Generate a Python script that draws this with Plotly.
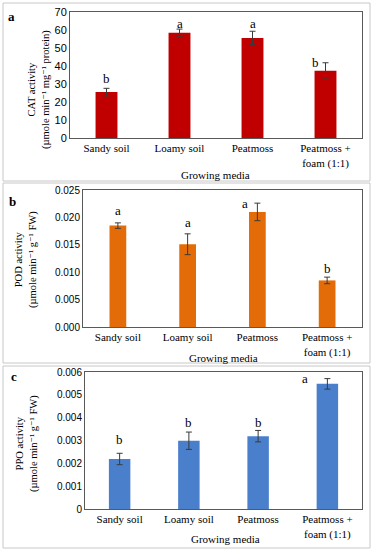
import plotly.graph_objects as go

categories = ["Sandy soil", "Loamy soil", "Peatmoss", "Peatmoss +<br>foam (1:1)"]

cat_values = [25.5, 58.5, 55.6, 37.3]
cat_errors = [2.1, 2.0, 3.7, 4.5]
cat_letters = ["b", "a", "a", "b"]

pod_values = [0.0185, 0.0151, 0.0210, 0.0085]
pod_errors = [0.0005, 0.0019, 0.0016, 0.0006]
pod_letters = ["a", "a", "a", "b"]

ppo_values = [0.00219, 0.00299, 0.00319, 0.00548]
ppo_errors = [0.00025, 0.00038, 0.00025, 0.00023]
ppo_letters = ["b", "b", "b", "a"]

cat_ticks = [0, 10, 20, 30, 40, 50, 60, 70]
pod_ticks = [0.0, 0.005, 0.010, 0.015, 0.020, 0.025]
pod_ticktext = ["0.000", "0.005", "0.010", "0.015", "0.020", "0.025"]
ppo_ticks = [0, 0.001, 0.002, 0.003, 0.004, 0.005, 0.006]
ppo_ticktext = ["0", "0.001", "0.002", "0.003", "0.004", "0.005", "0.006"]

W, H = 375, 550
SERIF = "Liberation Serif, DejaVu Serif, serif"
SANS = "Liberation Sans, Arial, sans-serif"

def px_x(p):
    return p / W

def px_y(p):
    return 1 - p / H

panels = [
    dict(vals=cat_values, errs=cat_errors, letters=cat_letters, color="#C00000",
         width=0.30, xdom=[70, 362], ydom=[138, 12], rng=[0, 70],
         tickvals=cat_ticks, ticktext=[str(t) for t in cat_ticks],
         title1="CAT activity", title2="(µmole min⁻¹ mg⁻¹ protein)", tx=39, ty=90,
         label="a", lx=11, ly=17, box=[3, 3, 370, 181], glabel=(215, 175), tickfont=11,
         lshift=[(0, 10), (0, 6), (0, 8), (-10, 0)]),
    dict(vals=pod_values, errs=pod_errors, letters=pod_letters, color="#E36C09",
         width=0.24, xdom=[83, 362], ydom=[327, 190], rng=[0, 0.025],
         tickvals=pod_ticks, ticktext=pod_ticktext,
         title1="POD activity", title2="(µmole min⁻¹ g⁻¹ FW)", tx=26, ty=260,
         label="b", lx=12, ly=201, box=[3, 183, 370, 363], glabel=(223, 358), tickfont=10,
         lshift=[(0, 12), (0, 11), (-12, 0), (0, 9)]),
    dict(vals=ppo_values, errs=ppo_errors, letters=ppo_letters, color="#4A7FCC",
         width=0.31, xdom=[85, 362], ydom=[509, 372], rng=[0, 0.006],
         tickvals=ppo_ticks, ticktext=ppo_ticktext,
         title1="PPO activity", title2="(µmole min⁻¹ g⁻¹ FW)", tx=27, ty=443,
         label="c", lx=14, ly=376, box=[3, 366, 370, 548], glabel=(225, 539), tickfont=10,
         lshift=[(0, 14), (0, 10), (0, 8), (-22, 0)]),
]

fig = go.Figure()
annotations = []
shapes = []

for i, p in enumerate(panels, start=1):
    xa = "x" if i == 1 else f"x{i}"
    ya = "y" if i == 1 else f"y{i}"
    fig.add_trace(go.Bar(
        x=categories, y=p["vals"], xaxis=xa, yaxis=ya,
        marker=dict(color=p["color"], line=dict(width=0)),
        width=p["width"],
        error_y=dict(type="data", array=p["errs"], visible=True,
                     color="#3a3a3a", thickness=1, width=3),
        showlegend=False,
    ))
    key = "" if i == 1 else str(i)
    fig.layout["xaxis" + key] = dict(
        domain=[px_x(p["xdom"][0]), px_x(p["xdom"][1])],
        anchor=ya, showline=True, mirror=True, linecolor="#595959", linewidth=1,
        ticks="", showgrid=False, tickfont=dict(family=SERIF, size=11, color="black"),
        fixedrange=True, automargin=False,
    )
    fig.layout["yaxis" + key] = dict(
        domain=[px_y(p["ydom"][0]), px_y(p["ydom"][1])],
        anchor=xa, range=p["rng"], showline=True, mirror=True, linecolor="#595959",
        linewidth=1, ticks="", showgrid=False, zeroline=False,
        tickvals=p["tickvals"], ticktext=p["ticktext"],
        tickfont=dict(family=SANS, size=p["tickfont"], color="black"),
        fixedrange=True, automargin=False,
    )
    # letters
    for j, (c, v, e, L) in enumerate(zip(categories, p["vals"], p["errs"], p["letters"])):
        xs, ys = p["lshift"][j]
        annotations.append(dict(
            x=c, y=v + e, xref=xa, yref=ya, text=L, showarrow=False,
            xshift=xs, yshift=ys, xanchor="center", yanchor="middle",
            font=dict(family=SERIF, size=13, color="black"),
        ))
    # y title
    annotations.append(dict(
        x=px_x(p["tx"]), y=px_y(p["ty"]), xref="paper", yref="paper",
        xanchor="center", yanchor="middle",
        text=p["title1"] + "<br>" + p["title2"], showarrow=False, textangle=-90,
        font=dict(family=SERIF, size=10.5, color="black"), align="center",
    ))
    # panel label
    annotations.append(dict(
        x=px_x(p["lx"]), y=px_y(p["ly"]), xref="paper", yref="paper",
        xanchor="center", yanchor="middle",
        text="<b>" + p["label"] + "</b>", showarrow=False,
        font=dict(family=SERIF, size=13, color="black"),
    ))
    # x title
    annotations.append(dict(
        x=px_x(p["glabel"][0]), y=px_y(p["glabel"][1]),
        xref="paper", yref="paper", xanchor="center", yanchor="middle",
        text="Growing media", showarrow=False,
        font=dict(family=SERIF, size=11, color="black"),
    ))
    b = p["box"]
    shapes.append(dict(type="rect", xref="paper", yref="paper",
                       x0=px_x(b[0]), x1=px_x(b[2]), y0=px_y(b[3]), y1=px_y(b[1]),
                       line=dict(color="#C8C8C8", width=1)))

fig.update_layout(
    width=W, height=H, margin=dict(l=0, r=0, t=0, b=0, autoexpand=False),
    paper_bgcolor="white", plot_bgcolor="white",
    annotations=annotations, shapes=shapes, bargap=0.7,
)

fig.write_html("out.html", config={"displayModeBar": False},
               post_script="document.body.style.margin='0';document.body.style.overflow='hidden';")
